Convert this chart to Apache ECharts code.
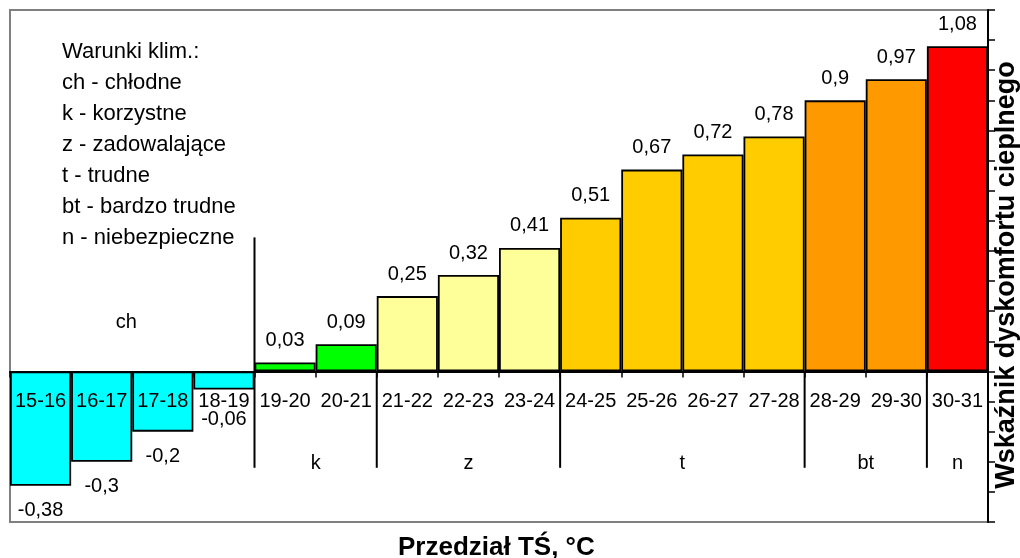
<!DOCTYPE html>
<html><head><meta charset="utf-8">
<script src="https://cdn.jsdelivr.net/npm/echarts@6/dist/echarts.min.js"></script>
<style>html,body{margin:0;padding:0;background:#fff}#c{width:1020px;height:558px}</style>
</head><body><div id="c"></div>
<script>
const categories = ['15-16','16-17','17-18','18-19','19-20','20-21','21-22','22-23','23-24','24-25','25-26','26-27','27-28','28-29','29-30','30-31'];
const values = [-0.38,-0.3,-0.2,-0.06,0.03,0.09,0.25,0.32,0.41,0.51,0.67,0.72,0.78,0.9,0.97,1.08];
const groupNames = ['ch','k','z','t','bt','n'];
const groupStart = [0,4,6,9,13,15];
const groupEnd = [4,6,9,13,15,16];
const groupColors = ['#00FFFF','#00FF00','#FFFF99','#FFCC00','#FF9900','#FF0000'];
const legendLines = ['Warunki klim.:','ch - chłodne','k - korzystne','z - zadowalające','t - trudne','bt - bardzo trudne','n - niebezpieczne'];
const yMin = -0.5, yMax = 1.2, yInterval = 0.1;
const xTitle = 'Przedział TŚ, °C';
const yTitle = 'Wskaźnik dyskomfortu cieplnego';

const FONT = 'Arial, "Liberation Sans", sans-serif';
function groupOf(i){ for (let g=0; g<groupStart.length; g++){ if (i>=groupStart[g] && i<groupEnd[g]) return g; } return 0; }
const fmt = v => String(v).replace('.', ',');

const GRID = {left: 10, right: 32, top: 10, bottom: 36};
const plotH = 558 - GRID.top - GRID.bottom;
const zeroOffset = -plotH * (0 - yMin) / (yMax - yMin);

const chart = echarts.init(document.getElementById('c'), null, {renderer:'canvas'});
chart.setOption({
  animation: false,
  backgroundColor: '#fff',
  title: [
    {text: legendLines.join('\n'), left: 57, top: 31,
     textStyle: {fontSize: 22, fontWeight: 'normal', lineHeight: 31, color: '#000', fontFamily: FONT}},
    {text: xTitle, left: 393, top: 530,
     textStyle: {fontSize: 26, fontWeight: 'bold', color: '#000', fontFamily: FONT}}
  ],
  grid: Object.assign({show: true, borderColor: '#808080', borderWidth: 2, containLabel: false, outerBoundsMode: 'none'}, GRID),
  xAxis: {
    type: 'category', data: categories, boundaryGap: true, z: 10,
    position: 'bottom', offset: zeroOffset,
    axisLine: {show: true, onZero: false, lineStyle: {color: '#000', width: 2}},
    axisTick: {show: true, length: 6, lineStyle: {color: '#000', width: 1.5}},
    axisLabel: {color: '#000', fontSize: 20, fontFamily: FONT, margin: 20, interval: 0},
    splitLine: {show: false}
  },
  yAxis: {
    type: 'value', position: 'right', min: yMin, max: yMax, interval: yInterval,
    axisLine: {show: true, lineStyle: {color: '#000', width: 2}},
    axisTick: {show: true, inside: false, length: 7, lineStyle: {color: '#000', width: 1.5}},
    axisLabel: {show: false},
    splitLine: {show: false},
    name: yTitle, nameLocation: 'middle', nameGap: 5,
    nameTextStyle: {fontSize: 27, fontWeight: 'bold', color: '#000', fontFamily: FONT, padding: [0, 18, 0, 0]}
  },
  series: [
    {
      type: 'bar', barCategoryGap: '0%', z: 2,
      data: values.map((v,i)=>({value: v, itemStyle: {color: groupColors[groupOf(i)]},
        label: {position: v < 0 ? 'bottom' : 'top', distance: v < 0 ? (v > -0.1 ? 20 : 15) : 12}})),
      itemStyle: {borderColor: '#000', borderWidth: 1.8},
      label: {show: true, color: '#000', fontSize: 20, fontFamily: FONT,
        formatter: p => fmt(p.value)}
    },
    {
      type: 'custom', z: 5, silent: true,
      data: groupStart.map((s,i)=>[s, groupEnd[i]]),
      encode: {x: 0, y: 1},
      renderItem: function(params, api){
        const s = api.value(0), e = api.value(1), idx = params.dataIndex;
        const bw = api.size([1,0])[0];
        const xl = api.coord([s,0])[0] - bw/2;
        const xr = api.coord([e-1,0])[0] + bw/2;
        const children = [];
        const yBottom = api.coord([s,-0.32])[1];
        if (s > 0){
          const topVal = (idx === 1) ? 0.445 : 0;
          const yTop = api.coord([s, topVal])[1];
          children.push({type:'line', shape:{x1:xl, y1:yTop, x2:xl, y2:yBottom}, style:{stroke:'#000', lineWidth:2}});
        }
        const lv = (idx === 0) ? 0.163 : -0.305;
        const p = api.coord([s, lv]);
        children.push({type:'text', x:(xl+xr)/2 - (idx===0?6:0), y:p[1],
          style:{text: groupNames[idx], fill:'#000', font: '20px ' + FONT, align:'center', verticalAlign:'middle'}});
        return {type:'group', children};
      }
    }
  ]
});
</script>
</body></html>
